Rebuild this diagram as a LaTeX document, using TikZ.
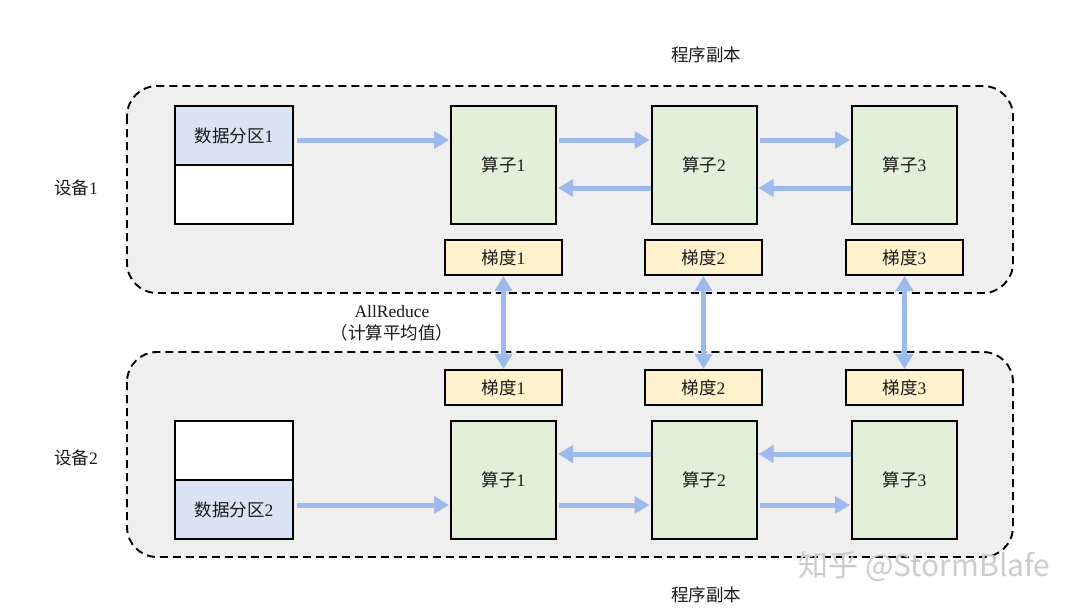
\documentclass[tikz,border=0pt]{standalone}
\usepackage{fontspec}
\setmainfont{Liberation Serif}
\newfontfamily\cjk{Noto Sans CJK SC}
\usetikzlibrary{arrows.meta}
\definecolor{panelfill}{HTML}{EFEFEF}
\definecolor{opfill}{HTML}{E2EFD9}
\definecolor{gradfill}{HTML}{FFF2CC}
\definecolor{datafill}{HTML}{DAE3F3}
\definecolor{arrowblue}{HTML}{9EB9EC}
\definecolor{txt}{HTML}{1A1A1A}
\tikzset{
  panel/.style={draw=black, line width=1.9pt, dash pattern=on 8pt off 5pt, fill=panelfill, rounded corners=30pt},
  opbox/.style={draw=black, line width=2pt, fill=opfill, minimum width=105pt, minimum height=118pt, inner sep=0pt, font=\fontsize{17.5}{20}\selectfont, text=txt},
  gradbox/.style={draw=black, line width=2pt, fill=gradfill, minimum width=117pt, minimum height=35pt, inner sep=0pt, font=\fontsize{17.5}{20}\selectfont, text=txt},
  databox/.style={draw=black, line width=2pt, minimum width=118pt, minimum height=59pt, inner sep=0pt, font=\fontsize{17.5}{20}\selectfont, text=txt},
  lbl/.style={font=\fontsize{17.5}{22}\selectfont, text=txt},
  flow/.style={draw=arrowblue, line width=5pt, -{Triangle[width=17pt,length=15pt]}, shorten >=1pt},
  sync/.style={draw=arrowblue, line width=5pt, {Triangle[width=17pt,length=15pt]}-{Triangle[width=17pt,length=15pt]}}
}
\begin{document}
\begin{tikzpicture}[x=1pt,y=-1pt]
\useasboundingbox[fill=white] (0,0) rectangle (1080,611);
% panels
\draw[panel] (127,86) rectangle (1013,293);
\draw[panel] (127,352) rectangle (1013,557);
% labels
\node[lbl] (prog1) at (706,55) {{\cjk 程序副本}};
\node[lbl] (prog2) at (706,595) {{\cjk 程序副本}};
\node[lbl] (dev1) at (76,188) {{\cjk 设备}1};
\node[lbl] (dev2) at (76,458) {{\cjk 设备}2};
\node[lbl, align=center] (allr) at (392,323) {AllReduce\\{\cjk （计算平均值）}};
% device 1
\node[databox, fill=datafill] (d1a) at (234,135.5) {{\cjk 数据分区}1};
\node[databox, fill=white] (d1b) at (234,194.5) {};
\node[opbox] (o11) at (503.5,165) {{\cjk 算子}1};
\node[opbox] (o12) at (704,165) {{\cjk 算子}2};
\node[opbox] (o13) at (904.5,165) {{\cjk 算子}3};
\node[gradbox] (g11) at (503.5,257.5) {{\cjk 梯度}1};
\node[gradbox] (g12) at (703.5,257.5) {{\cjk 梯度}2};
\node[gradbox] (g13) at (904.5,257.5) {{\cjk 梯度}3};
% device 2
\node[databox, fill=white] (d2a) at (234,450.5) {};
\node[databox, fill=datafill] (d2b) at (234,509.5) {{\cjk 数据分区}2};
\node[opbox] (o21) at (503.5,480) {{\cjk 算子}1};
\node[opbox] (o22) at (704,480) {{\cjk 算子}2};
\node[opbox] (o23) at (904.5,480) {{\cjk 算子}3};
\node[gradbox] (g21) at (503.5,387.5) {{\cjk 梯度}1};
\node[gradbox] (g22) at (703.5,387.5) {{\cjk 梯度}2};
\node[gradbox] (g23) at (904.5,387.5) {{\cjk 梯度}3};
% flows device 1
\draw[flow] (d1a.east |- 0,140) ++(3,0) -- (o11.west |- 0,140);
\draw[flow] (o11.east |- 0,140) ++(2,0) -- (o12.west |- 0,140);
\draw[flow] (o12.east |- 0,140) ++(2,0) -- (o13.west |- 0,140);
\draw[flow] (o13.west |- 0,188) -- (o12.east |- 0,188);
\draw[flow] (o12.west |- 0,188) -- (o11.east |- 0,188);
% flows device 2
\draw[flow] (d2b.east |- 0,505) ++(3,0) -- (o21.west |- 0,505);
\draw[flow] (o21.east |- 0,505) ++(2,0) -- (o22.west |- 0,505);
\draw[flow] (o22.east |- 0,505) ++(2,0) -- (o23.west |- 0,505);
\draw[flow] (o23.west |- 0,454) -- (o22.east |- 0,454);
\draw[flow] (o22.west |- 0,454) -- (o21.east |- 0,454);
% allreduce
\draw[sync] (g11.south) -- (g21.north);
\draw[sync] (g12.south) -- (g22.north);
\draw[sync] (g13.south) -- (g23.north);
% watermark
\node[font=\cjk\fontsize{30}{32}\selectfont, text=black!20, anchor=east] (wm) at (1054,566) {知乎 @StormBlafe};
\end{tikzpicture}
\end{document}
